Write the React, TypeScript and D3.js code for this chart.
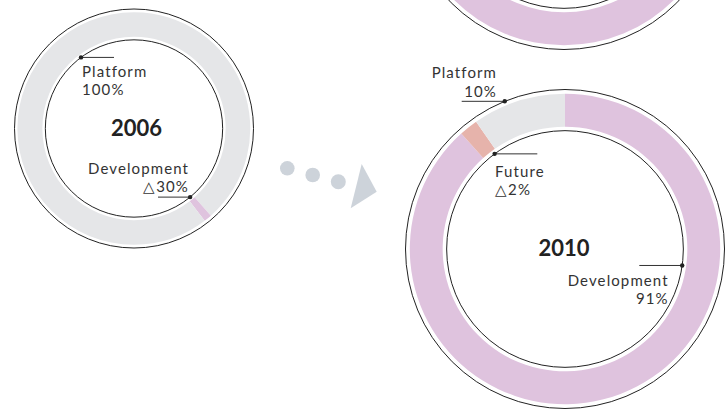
import React from "react";
import * as d3 from "d3";

// ---- data ----
const leftCategories = ["Platform", "Development", "Platform", "Platform"];
const leftValues = [38.5, 1.1, 10.4, 50];
const leftYear = "2006";

const rightCategories = ["Development", "Future", "Platform"];
const rightValues = [91, 2, 10];
const rightYear = "2010";

const topCategories = ["Development"];
const topValues = [100];

const leftLabels = [
  { name: "Platform", value: "100%" },
  { name: "Development", value: "\u25B330%" },
];
const rightLabels = [
  { name: "Platform", value: "10%" },
  { name: "Future", value: "\u25B32%" },
  { name: "Development", value: "91%" },
];

const colors: Record<string, string> = {
  Platform: "#e5e6e8",
  Development: "#dfc3de",
  Future: "#e6b3ab",
};

const FONT = "Lato, 'Open Sans', sans-serif";

type Seg = { cat: string; value: number };

function Donut({
  cx,
  cy,
  R,
  cats,
  vals,
}: {
  cx: number;
  cy: number;
  R: number;
  cats: string[];
  vals: number[];
}) {
  const segs: Seg[] = cats.map((c, i) => ({ cat: c, value: vals[i] }));
  const pie = d3
    .pie<Seg>()
    .sort(null)
    .value((d) => d.value)
    .startAngle(0)
    .endAngle(2 * Math.PI);
  const arc = d3
    .arc<d3.PieArcDatum<Seg>>()
    .innerRadius(R * 0.767)
    .outerRadius(R * 0.973);
  const arcs = pie(segs);
  return (
    <g transform={`translate(${cx},${cy})`}>
      {arcs.map((a, i) => (
        <path key={i} d={arc(a) || ""} fill={colors[a.data.cat]} />
      ))}
      <circle r={R} fill="none" stroke="#222" strokeWidth={1} />
      <circle r={R * 0.742} fill="none" stroke="#222" strokeWidth={1} />
    </g>
  );
}

function polar(cx: number, cy: number, r: number, deg: number): [number, number] {
  const t = (deg * Math.PI) / 180;
  return [cx + r * Math.sin(t), cy - r * Math.cos(t)];
}

function Leader({
  cx,
  cy,
  r,
  deg,
  toX,
}: {
  cx: number;
  cy: number;
  r: number;
  deg: number;
  toX: number;
}) {
  const [x, y] = polar(cx, cy, r, deg);
  return (
    <g>
      <line x1={x} y1={y} x2={toX} y2={y} stroke="#333" strokeWidth={1} />
      <circle cx={x} cy={y} r={2.2} fill="#222" />
    </g>
  );
}

function Label({
  x,
  y,
  anchor,
  name,
  value,
}: {
  x: number;
  y: number;
  anchor: "start" | "end";
  name: string;
  value: string;
}) {
  const common = {
    textAnchor: anchor,
    fontFamily: FONT,
    fontSize: 15,
    letterSpacing: 1.1,
    fill: "#333",
  };
  return (
    <g>
      <text x={x} y={y} {...common}>
        {name}
      </text>
      <text x={x} y={y + 18.3} {...common}>
        {value}
      </text>
    </g>
  );
}

export default function App() {
  const L = { cx: 134, cy: 128.5, R: 119.5 };
  const Rt = { cx: 565, cy: 249, R: 159.5 };
  const T = { cx: 564, cy: -110, R: 159.5 };

  return (
    <svg
      width={727}
      height={411}
      style={{ position: "absolute", left: 0, top: 0, background: "#fff" }}
    >
      <rect width={727} height={411} fill="#fff" />
      {/* top partial donut */}
      <Donut cx={T.cx} cy={T.cy} R={T.R} cats={topCategories} vals={topValues} />

      {/* left donut */}
      <Donut cx={L.cx} cy={L.cy} R={L.R} cats={leftCategories} vals={leftValues} />
      <Leader cx={L.cx} cy={L.cy} r={L.R * 0.742} deg={323.3} toX={114} />
      <Leader cx={L.cx} cy={L.cy} r={L.R * 0.742} deg={140.7} toX={158} />
      <Label x={82} y={77} anchor="start" name={leftLabels[0].name} value={leftLabels[0].value} />
      <Label x={189} y={174} anchor="end" name={leftLabels[1].name} value={leftLabels[1].value} />
      <text
        x={136.5}
        y={135.5}
        textAnchor="middle"
        fontFamily={FONT}
        fontWeight={700}
        fontSize={22}
        fill="#222"
      >
        {leftYear}
      </text>

      {/* arrow decoration */}
      <g fill="#cdd3da">
        <circle cx={287.3} cy={168.3} r={7.3} />
        <circle cx={312.7} cy={175} r={7.3} />
        <circle cx={338.3} cy={181.7} r={7.5} />
        <polygon points="361.7,164 376.7,191.7 350.7,208.3" />
      </g>

      {/* right donut */}
      <Donut cx={Rt.cx} cy={Rt.cy} R={Rt.R} cats={rightCategories} vals={rightValues} />
      <Leader cx={Rt.cx} cy={Rt.cy} r={Rt.R} deg={337.8} toX={461.7} />
      <Leader cx={Rt.cx} cy={Rt.cy} r={Rt.R * 0.742} deg={323.5} toX={537.3} />
      <Leader cx={Rt.cx} cy={Rt.cy} r={Rt.R * 0.742} deg={98} toX={639.3} />
      <Label x={497} y={78.3} anchor="end" name={rightLabels[0].name} value={rightLabels[0].value} />
      <Label x={495} y={176.7} anchor="start" name={rightLabels[1].name} value={rightLabels[1].value} />
      <Label x={668.7} y={286} anchor="end" name={rightLabels[2].name} value={rightLabels[2].value} />
      <text
        x={564}
        y={256}
        textAnchor="middle"
        fontFamily={FONT}
        fontWeight={700}
        fontSize={22}
        fill="#222"
      >
        {rightYear}
      </text>
    </svg>
  );
}
